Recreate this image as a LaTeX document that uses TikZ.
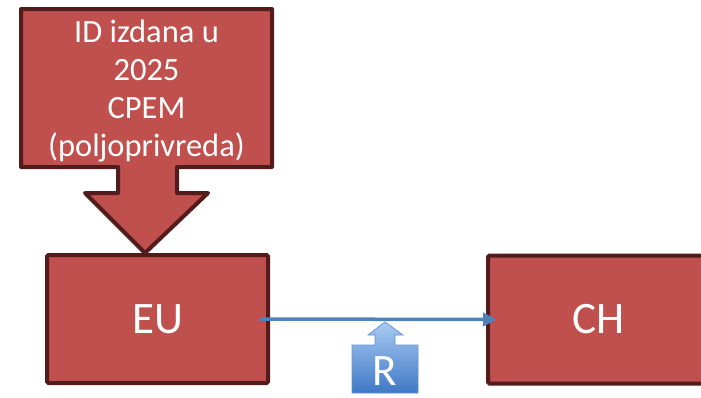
\documentclass[tikz,border=0pt]{standalone}
\usepackage{fontspec}
\setmainfont{Carlito}
\usetikzlibrary{arrows.meta}
\definecolor{boxred}{HTML}{C0504D}
\definecolor{boxedge}{HTML}{521C1C}
\definecolor{linkblue}{HTML}{4F81BD}
\definecolor{rtop}{HTML}{A9CBF2}
\definecolor{rbot}{HTML}{3F78C6}
\tikzset{
  redbox/.style={draw=boxedge, fill=boxred, line width=4pt, rounded corners=1.5pt,
    minimum width=221pt, minimum height=128pt, text=white, font=\fontsize{45}{50}\selectfont},
  redshape/.style={draw=boxedge, fill=boxred, line width=4pt, line join=round},
  link/.style={draw=linkblue, line width=3.5pt, -{Triangle[length=14pt,width=13pt]}},
  rshape/.style={top color=rtop, bottom color=rbot, draw=rbot!80!white, line width=0.8pt},
}
\begin{document}
\begin{tikzpicture}[x=1pt,y=-1pt]
\useasboundingbox (0,0) rectangle (701,397);
% callout arrow
\draw[redshape] (21,9) -- (272,9) -- (272,167) -- (177,167) -- (177,193) -- (208,193)
  -- (145,253) -- (85,193) -- (118,193) -- (118,167) -- (21,167) -- cycle;
\node[text=white, align=center, font=\fontsize{32.5}{38.3}\selectfont] (id) at (146.5,91)
  {ID izdana u\\2025\\CPEM\\(poljoprivreda)};
% boxes
\node[redbox] (EU) at (157.5,319) {EU};
\node[redbox] (CH) at (598.5,319.5) {CH};
% link
\draw[link] ([xshift=-10pt]EU.east) -- ([xshift=11pt]CH.west);
% R up-arrow callout
\draw[rshape] (352,345) -- (375,345) -- (375,335) -- (368,335) -- (385,322) -- (403,335)
  -- (395,335) -- (395,345) -- (418,345) -- (418,393) -- (352,393) -- cycle;
\node[text=white, font=\fontsize{45}{48}\selectfont] (R) at (385,371) {R};
\end{tikzpicture}
\end{document}
